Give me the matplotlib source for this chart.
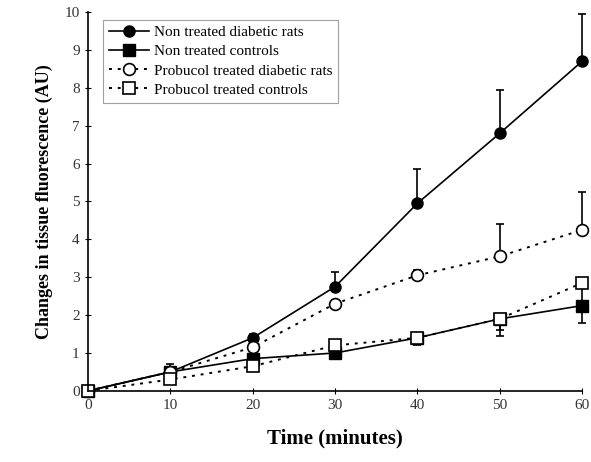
import matplotlib
matplotlib.use("Agg")
import matplotlib.pyplot as plt

plt.rcParams['font.family'] = ['Liberation Serif', 'DejaVu Serif']

time = [0, 10, 20, 30, 40, 50, 60]

# series values
diab = [0, 0.5, 1.4, 2.75, 4.95, 6.8, 8.7]
diab_err = [0, 0.2, 0.1, 0.4, 0.9, 1.15, 1.25]
ctrl = [0, 0.5, 0.85, 1.0, 1.4, 1.9, 2.25]
ctrl_err = [0, 0.1, 0.1, 0.15, 0.2, 0.45, 0.45]
prob_diab = [0, 0.5, 1.15, 2.3, 3.05, 3.55, 4.25]
prob_diab_err = [0, 0.1, 0.1, 0.1, 0.15, 0.85, 1.0]
prob_ctrl = [0, 0.3, 0.65, 1.2, 1.4, 1.9, 2.85]
prob_ctrl_err = [0, 0.1, 0.1, 0.1, 0.1, 0.3, 0.5]

fig = plt.figure(figsize=(5.91, 4.62), dpi=100)
ax = fig.add_axes([0.149, 0.154, 0.836, 0.82])

eb = dict(ecolor='black', elinewidth=1.2, capsize=3, capthick=1.2)
zeros = [0] * len(time)

c1 = ax.errorbar(time, diab, yerr=[zeros, diab_err], color='black', lw=1.2,
                 marker='o', ms=8, mfc='black', mec='black', **eb)
c2 = ax.errorbar(time, ctrl, yerr=[ctrl_err, zeros], color='black', lw=1.2,
                 marker='s', ms=8, mfc='black', mec='black', **eb)
c3 = ax.errorbar(time, prob_diab, yerr=[zeros, prob_diab_err], color='black', lw=1.4,
                 ls=(0, (1.5, 3)), marker='o', ms=8.5, mfc='white', mec='black', mew=1.2, **eb)
c4 = ax.errorbar(time, prob_ctrl, yerr=[prob_ctrl_err, zeros], color='black', lw=1.4,
                 ls=(0, (1.5, 3)), marker='s', ms=8.5, mfc='white', mec='black', mew=1.2, **eb)

for c in [c1, c2, c3, c4]:
    c[0].set_clip_on(False)
    for art in c[1]:
        art.set_clip_on(False)
    for art in c[2]:
        art.set_clip_on(False)

ax.set_xlim(0, 60)
ax.set_ylim(0, 10)
ax.set_xticks(time)
ax.set_yticks(range(0, 11))
for s in ['top', 'right']:
    ax.spines[s].set_visible(False)
for s in ['left', 'bottom']:
    ax.spines[s].set_linewidth(1.2)
ax.tick_params(direction='inout', length=5, labelsize=11)
for lbl in ax.get_xticklabels() + ax.get_yticklabels():
    lbl.set_color('#333333')

ax.set_xlabel('Time (minutes)', fontsize=15, fontweight='bold', labelpad=12)
ax.set_ylabel('Changes in tissue fluorescence (AU)', fontsize=13, fontweight='bold', labelpad=8)

labels = ['Non treated diabetic rats', 'Non treated controls',
          'Probucol treated diabetic rats', 'Probucol treated controls']
leg = ax.legend([c1[0], c2[0], c3[0], c4[0]], labels,
                loc='upper left', bbox_to_anchor=(0.015, 1.0), fontsize=11,
                fancybox=False, edgecolor='#888888', handlelength=2.6,
                borderpad=0.4, labelspacing=0.35, handletextpad=0.3)
leg.get_frame().set_linewidth(0.8)

fig.savefig('out.png', dpi=100)
